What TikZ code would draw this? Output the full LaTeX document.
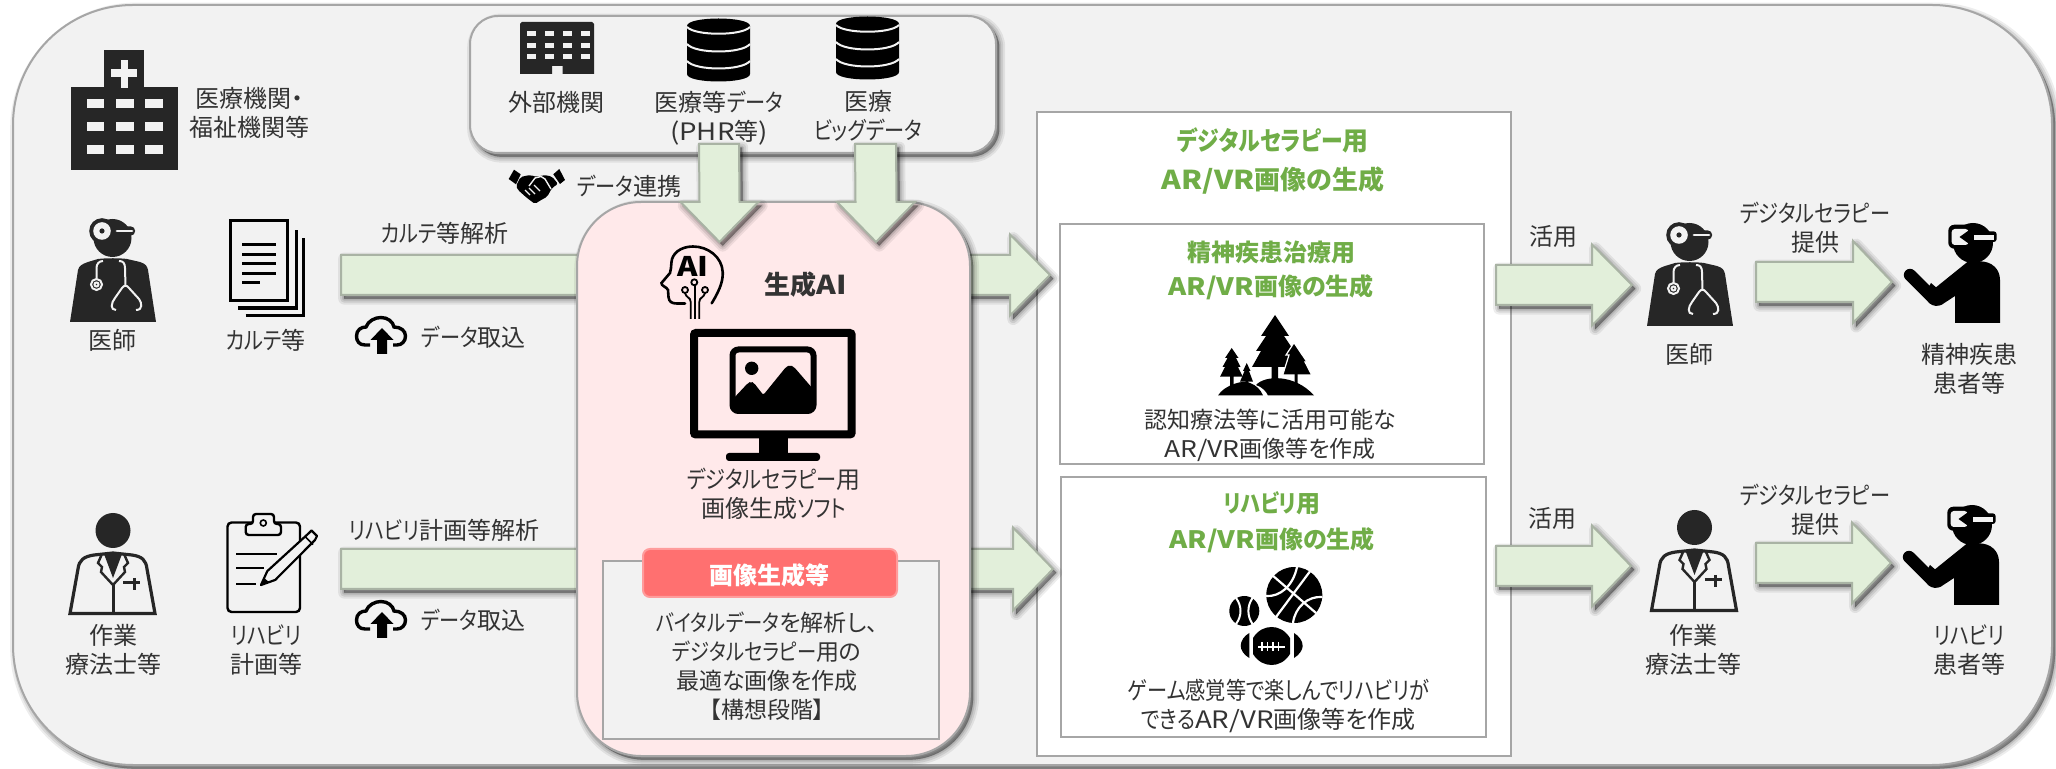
\documentclass[tikz,border=0pt]{standalone}
\usepackage{fontspec}
\setmainfont{Noto Sans CJK JP}[RawFeature=+palt]
\newfontfamily\narrowkana{Noto Sans CJK JP}[RawFeature=+palt,FakeStretch=0.84]
\newfontfamily\widelatin{Noto Sans CJK JP}[FakeStretch=1.15]
\newcommand\kn[1]{{\narrowkana #1}}
\newcommand\lt[1]{{\widelatin #1}}
\usetikzlibrary{calc}
\definecolor{paneFill}{HTML}{F2F2F2}
\definecolor{paneLine}{HTML}{A6A6A6}
\definecolor{flowFill}{HTML}{E2EFDA}
\definecolor{flowLine}{HTML}{A9B3A4}
\definecolor{aiFill}{HTML}{FFE9EA}
\definecolor{tagFill}{HTML}{FF7070}
\definecolor{tagLine}{HTML}{FF9C9C}
\definecolor{inkDark}{HTML}{262626}
\definecolor{bodyText}{HTML}{333333}
\definecolor{headGreen}{HTML}{70AD47}
% strut centred on the em box, so that every line sits at the same height
\newcommand\ST{\rule[-2.4pt]{0pt}{14pt}}
% soft drop shadow under a closed path
\newcommand\softshadow[1]{\foreach \shw/\sho in {6/.07,4/.09,2/.11,0.5/.13}{%
  \path[draw=black,fill=black,line width=\shw pt,line join=round,opacity=\sho,
        transform canvas={xshift=1.6pt,yshift=-1.8pt}] #1;}}
% block arrows: start coordinate, tip coordinate, half shaft, half head, head length
\newcommand\hpath[5]{($(#1)+(0,-#3)$) -- ($(#2)+(-#5,-#3)$) -- ($(#2)+(-#5,-#4)$) -- (#2) -- ($(#2)+(-#5,#4)$) -- ($(#2)+(-#5,#3)$) -- ($(#1)+(0,#3)$) -- cycle}
\newcommand\vpath[5]{($(#1)+(-#3,0)$) -- ($(#2)+(-#3,-#5)$) -- ($(#2)+(-#4,-#5)$) -- (#2) -- ($(#2)+(#4,-#5)$) -- ($(#2)+(#3,-#5)$) -- ($(#1)+(#3,0)$) -- cycle}
\newcommand\hblock[5]{\softshadow{\hpath{#1}{#2}{#3}{#4}{#5}}\draw[flowshape] \hpath{#1}{#2}{#3}{#4}{#5};}
\newcommand\vblock[5]{\softshadow{\vpath{#1}{#2}{#3}{#4}{#5}}\draw[flowshape] \vpath{#1}{#2}{#3}{#4}{#5};}
\tikzset{
  lbl/.style={inner sep=0pt,align=center,text=bodyText,font=\fontsize{12}{14.5}\selectfont},
  lblsmall/.style={lbl,font=\fontsize{11.5}{14.5}\selectfont},
  lblbold/.style={lbl,font=\fontsize{12}{14.5}\selectfont\bfseries},
  greenhead/.style={lblbold,text=headGreen},
  flowshape/.style={draw=flowLine,fill=flowFill,line width=1pt,line join=miter},
  panebox/.style={draw=paneLine,fill=paneFill,line width=1pt},
  whitebox/.style={draw=paneLine,fill=white,line width=1pt},
  doctoricon/.pic={
    \fill[inkDark] (0,104) -- (8,52) .. controls (9,48) and (12,46) .. (18,44) -- (28,41) .. controls (36,40) and (50,40) .. (57,41) -- (70,44) .. controls (76,46) and (77,48) .. (78,52) -- (86,104) -- cycle;
    \fill[inkDark] (42.5,20) circle[radius=19];
    \fill[inkDark] (32,13) circle[radius=12.8];
    \fill[paneFill] (32,13) circle[radius=8.8];
    \fill[inkDark] (32,13) circle[radius=2.6];
    \fill[inkDark,rounded corners=2pt] (43,8.5) rectangle (65,17.5);
    \draw[paneFill,line width=1.4pt,line cap=round] (47,13) -- (62,13);
    \draw[paneFill,line width=1pt] (26.5,60) -- (26.5,50) .. controls (26.5,46) and (29,43) .. (33,43) (49,43) .. controls (53,43) and (55,45) .. (55,50) -- (55.5,68);
    \draw[paneFill,line width=1pt] (26.5,66.5) circle[radius=5.5];
    \draw[paneFill,line width=1pt,fill=none] (26.5,66.5) circle[radius=2];
    \draw[paneFill,line width=1pt] (46,92) .. controls (40,92) and (41,85) .. (45,80) -- (52,70) .. controls (54,67) and (57,67) .. (59,70) -- (69,81) .. controls (72,85) and (73,92) .. (66,92);
  },
  therapisticon/.pic={
    \fill[inkDark] (44,17.5) circle[radius=17.5];
    \draw[inkDark,fill=paneFill,line width=1.6pt,line join=miter] (1,100.5) -- (9,56) .. controls (10,47) and (15,43.5) .. (25,42) -- (44,40) -- (63,42) .. controls (73,43.5) and (77,47) .. (78,56) -- (86,100.5) -- cycle;
    \fill[inkDark] (35,41) -- (44,65) -- (53,41) -- cycle;
    \draw[inkDark,line width=1.2pt,fill=paneFill] (33,41) -- (29,50) -- (33,54) -- (32,59) -- (44,72);
    \draw[inkDark,line width=1.2pt] (55,41) -- (59,50) -- (55,54) -- (56,59) -- (44,72);
    \draw[inkDark,line width=1.5pt] (44,70) -- (44,100);
    \draw[inkDark,line width=1.5pt] (54,69.5) -- (71,69.5) (65,65) -- (65,77);
  },
  vricon/.pic={
    \fill[black] (69,20) circle[radius=20];
    \fill[black,rounded corners=3pt] (44.3,1.7) rectangle (67,25.7);
    \fill[paneFill,rounded corners=1.5pt] (47.7,6) rectangle (64.5,22);
    \fill[black] (66,6.5) -- (55.5,14) -- (66,21.5) -- cycle;
    \fill[black,rounded corners=1.5pt] (64,8.3) rectangle (92.7,19);
    \fill[paneFill] (70,11.8) rectangle (90.3,16.6);
    \draw[black,line width=6.2pt,line cap=round] (6,52) -- (28,74);
    \fill[black] (51,100) -- (51,73) -- (37.7,81.7) .. controls (34,83.5) and (29,83.5) .. (25,80) -- (20,72) -- (27,60) -- (32,64.3) -- (64,38.5) -- (76,38.3) .. controls (88,38.5) and (96,46) .. (96,57) -- (96,100) -- cycle;
  },
  cloudicon/.pic={
    \draw[black,line width=1.7pt,line cap=butt] (14,28) -- (9,28) .. controls (3,28) and (0.5,24) .. (0.5,19) .. controls (0.5,13) and (5,10) .. (10,10) .. controls (12,4) and (19,0.5) .. (25,0.5) .. controls (32,0.5) and (37,5) .. (38,10) .. controls (45,10) and (49.5,14) .. (49.5,19) .. controls (49.5,24) and (46,28) .. (41,28) -- (37,28);
    \fill[black] (26,11) -- (37.5,23) -- (31,23) -- (31,37) -- (21,37) -- (21,23) -- (14.5,23) -- cycle;
  },
  dbicon/.pic={
    \fill[black] (0,8) .. controls (0,-2) and (63,-2) .. (63,8) -- (63,56) .. controls (63,66) and (0,66) .. (0,56) -- cycle;
    \draw[paneFill,line width=1pt] (0,9) .. controls (8,18) and (55,18) .. (63,9);
    \draw[paneFill,line width=1pt] (0,26) .. controls (8,36) and (55,36) .. (63,26);
    \draw[paneFill,line width=1pt] (0,43) .. controls (8,53) and (55,53) .. (63,43);
  },
}
\begin{document}
\begin{tikzpicture}[x=0.5pt,y=-0.5pt]
\useasboundingbox (0,0) rectangle (2056,769);

% outer pane
\softshadow{[rounded corners=60pt] (13,5) rectangle (2052,765)}
\draw[panebox,rounded corners=60pt] (13,5) rectangle (2052,765);

% hospital
\fill[inkDark] (71,87) rectangle (177.5,170);
\fill[inkDark] (104,50) rectangle (144,90);
\fill[paneFill] (120.5,60) rectangle (127.5,88);
\fill[paneFill] (111,69.5) rectangle (137,77.5);
\foreach \wx in {86.5,116,145}{\foreach \wy in {99,122,145}{\fill[paneFill] (\wx,\wy) rectangle ++(17.5,9);}}
\node[lbl] (hospital) at (249,113) {\ST 医療機関・\\\ST 福祉機関等};

% source pane
\softshadow{[rounded corners=14pt] (470,16) rectangle (996,153)}
\draw[panebox,rounded corners=14pt] (470,16) rectangle (996,153);

% building
\fill[inkDark] (520,74) -- (520,24) -- (522,22) -- (592,22) -- (594,24) -- (594,74) -- (562.5,74) -- (562.5,66) -- (552,66) -- (552,74) -- cycle;
\foreach \wx in {527,545,562.5,580.5}{\foreach \wy in {31,43,54}{\fill[paneFill] (\wx,\wy) rectangle ++(9,5.5);}}
\node[lbl] (external) at (556,102) {\ST 外部機関};
\pic at (687,18) {dbicon};
\node[lbl] (phr) at (719,117) {\ST 医療等\kn{データ}\\\ST \lt{(PHR}等\lt{)}};
\pic at (836,16) {dbicon};
\node[lbl] (bigdata) at (868,116) {\ST 医療\\\ST \kn{ビッグデータ}};

% handshake
\fill[black] (508.7,179) -- (514,169.7) -- (520.7,174.3) -- (516,184.3) -- cycle;
\fill[black] (553.3,174.3) -- (559.3,169) -- (565,180) -- (560,184) -- cycle;
\fill[black,rounded corners=1pt] (520.5,177) -- (530,175) -- (537,177) -- (544,175) -- (552,176.5) -- (558,184) -- (552,188) -- (547,197) -- (541,200) -- (535,204) -- (527,198) -- (518,190) -- (516,186) -- cycle;
\draw[paneFill,line width=0.7pt] (529,186) -- (535,178) -- (541,176.5) -- (545,179) -- (551,189);
\draw[paneFill,line width=0.6pt] (525,190) -- (530,195) (529,188) -- (535,194) (534,185) -- (540,191);
\node[lbl] (datalink) at (629,186) {\ST \kn{データ}連携};

% left-hand roles: doctor row
\pic at (70,218) {doctoricon};
\node[lbl] (doctorA) at (112.5,340) {\ST 医師};
\fill[paneFill] (229,219) rectangle (289,302);
\draw[black,line width=1.7pt] (230.5,220.5) rectangle (287.5,300.5);
\draw[black,line width=1.7pt] (238,308) -- (296.5,308) -- (296.5,230);
\draw[black,line width=1.7pt] (245.7,315.5) -- (303.5,315.5) -- (303.5,238);
\draw[black,line width=1.5pt] (242,245) -- (276,245) (242,254.5) -- (276,254.5) (242,264) -- (276,264) (242,273.5) -- (276,273.5) (242,283) -- (260,283);
\node[lbl] (chart) at (266,340) {\ST \kn{カルテ}等};
\node[lbl] (chartAnalysis) at (445,233) {\ST \kn{カルテ}等解析};
\pic at (356,317) {cloudicon};
\node[lbl] (importA) at (473.5,337) {\ST \kn{データ}取込};

% left-hand roles: therapist row
\pic at (69,513) {therapisticon};
\node[lbl] (therapistA) at (113,650) {\ST 作業\\\ST 療法士等};
\fill[paneFill] (227,522) rectangle (300,612);
\draw[black,line width=1.2pt,rounded corners=2pt] (227.5,522.5) rectangle (300,612);
\draw[black,fill=paneFill,line width=1.2pt,rounded corners=1.5pt] (245.7,535) -- (245.7,524) -- (253,524) -- (253,514) -- (274,514) -- (274,524) -- (281,524) -- (281,535) -- cycle;
\draw[black,line width=0.8pt] (263.3,523) circle[radius=3];
\draw[black,line width=1.3pt] (236,554) -- (277,554) (236,568) -- (264,568) (236,584) -- (256,584);
\draw[paneFill,line width=3.5pt] (270,578) -- (311,538);
\draw[black,fill=paneFill,line width=1.1pt,line join=round] (261,585) -- (267.3,571.1) -- (309,533) -- (311.5,530.5) -- (317,536) -- (315,540) -- (275.3,579.9) -- cycle;
\fill[black] (261,585) -- (264,578) -- (269,582) -- cycle;
\draw[black,line width=0.8pt] (305,536.5) -- (313,544.5);
\node[lbl] (plan) at (266,650) {\ST \kn{リハビリ}\\\ST 計画等};
\node[lbl] (planAnalysis) at (444,530) {\ST \kn{リハビリ}計画等解析};
\pic at (356,601) {cloudicon};
\node[lbl] (importB) at (473,620) {\ST \kn{データ}取込};

% output panes
\draw[whitebox] (1037,112) rectangle (1511,756);
\node[greenhead,font=\fontsize{13}{14.5}\selectfont\bfseries] (mainTitle) at (1273,160.5) {\ST \kn{デジタルセラピー}用\\[5pt]\ST \lt{AR/VR}画像の生成};
\draw[whitebox] (1060,224) rectangle (1484,464);
\node[greenhead] (psyTitle) at (1271,269) {\ST 精神疾患治療用\\[2.5pt]\ST \lt{AR/VR}画像の生成};
\draw[whitebox] (1061,477) rectangle (1486,737);
\node[greenhead] (rehabTitle) at (1272,521) {\ST \kn{リハビリ}用\\[3.5pt]\ST \lt{AR/VR}画像の生成};

% forest
\fill[black] (1275,315) -- (1261,336) -- (1266,336) -- (1256,351) -- (1261,351) -- (1252,367) -- (1271.7,367) -- (1271.7,386) -- (1278,386) -- (1278,367) -- (1298,367) -- (1289,351) -- (1294,351) -- (1284,336) -- (1289,336) -- cycle;
\draw[white,line width=0.6pt,fill=black] (1294,342.7) -- (1286,355) -- (1289,355) -- (1282.7,375) -- (1294,375) -- (1294,386) -- (1298.3,386) -- (1298.3,375) -- (1311.7,375) -- (1305,362) -- (1307,362) -- cycle;
\fill[black] (1231.7,348) -- (1225,358) -- (1227.5,358) -- (1222.5,367) -- (1225,367) -- (1220,376.7) -- (1230,376.7) -- (1230,390) -- (1233.5,390) -- (1233.5,376.7) -- (1242.7,376.7) -- (1238,367) -- (1240.5,367) -- (1236,358) -- (1238.5,358) -- cycle;
\fill[black] (1246.7,363) -- (1243,371) -- (1244.5,371) -- (1240,381.7) -- (1245.5,381.7) -- (1245.5,391) -- (1248,391) -- (1248,381.7) -- (1253,381.7) -- (1249,371) -- (1250.5,371) -- cycle;
\fill[black] (1218,395.5) .. controls (1224,385) and (1245,379) .. (1250,383) .. controls (1256,385) and (1261,390) .. (1263,395.5) -- cycle;
\fill[black] (1256,385) .. controls (1265,375) and (1295,374) .. (1314,395.5) -- (1268,395.5) .. controls (1266,391) and (1262,387) .. (1256,385) -- cycle;
\node[lblsmall] (psyText) at (1270,433.5) {\ST 認知療法等に活用可能な\\\ST \lt{AR/VR}画像等を作成};

% sports balls
\fill[black] (1294.3,595) circle[radius=28];
\draw[white,line width=1.1pt] (1311,570) -- (1276,617) (1272,575) -- (1316,613);
\draw[white,line width=1.1pt] (1266,596) .. controls (1280,597) and (1293,586) .. (1297,567);
\draw[white,line width=1.1pt] (1322,597) .. controls (1308,596) and (1295,607) .. (1293,623);
\fill[black] (1244.3,611) circle[radius=15];
\draw[white,line width=1pt] (1236,598) .. controls (1242,606) and (1242,616) .. (1236,624);
\draw[white,line width=1pt] (1252.5,598) .. controls (1247,606) and (1247,616) .. (1252.5,624);
\fill[black] (1253,638) .. controls (1258,630) and (1265,627) .. (1271.7,627) .. controls (1278,627) and (1285,630) .. (1290,638) -- (1290,654) .. controls (1285,662) and (1278,665) .. (1271.7,665) .. controls (1265,665) and (1258,662) .. (1253,654) -- cycle;
\fill[black] (1249.3,633) -- (1249.3,658) .. controls (1244,655) and (1240.7,650) .. (1240.7,646) .. controls (1240.7,641) and (1244,636) .. (1249.3,633) -- cycle;
\fill[black] (1294,633) -- (1294,658) .. controls (1299,655) and (1302.7,650) .. (1302.7,646) .. controls (1302.7,641) and (1299,636) .. (1294,633) -- cycle;
\draw[white,line width=0.9pt] (1258,647) -- (1285,647);
\foreach \lx in {1262,1267.5,1273,1278.5}{\draw[white,line width=0.7pt] (\lx,642.5) -- (\lx,651.5);}
\node[lbl] (rehabText) at (1278.5,704.5) {\ST \kn{ゲーム感覚等で楽しんでリハビリが}\\\ST \kn{できる}\lt{AR/VR}画像等を作成};

% flow through the generator
\coordinate (chartFlowStart) at (341,275);
\coordinate (chartFlowTip) at (1050,275);
\coordinate (planFlowStart) at (341,569);
\coordinate (planFlowTip) at (1053,569);
\hblock{chartFlowStart}{chartFlowTip}{20}{40.5}{40}
\hblock{planFlowStart}{planFlowTip}{20}{41.5}{40}

% generator pane
\softshadow{[rounded corners=32pt] (577,202) rectangle (970,756)}
\draw[draw=paneLine,fill=aiFill,line width=1pt,rounded corners=32pt] (577,202) rectangle (970,756);

% AI head
\draw[black,line width=1.3pt,line cap=round] (711.7,303.3) .. controls (721,288) and (723,280) .. (722.7,272) .. controls (722,257) and (708,246.5) .. (693,246.5) .. controls (680,246.5) and (672,254) .. (671.5,262) .. controls (671,267) and (671,270) .. (670,273) -- (661.5,283) .. controls (661,286) and (667,287) .. (668,290) -- (668.5,297) .. controls (669,302) and (672,303.5) .. (677,303.5) -- (685,303.5);
\node[inner sep=0pt,font=\fontsize{13.5}{14}\selectfont\bfseries] (aiGlyph) at (692.7,266) {\lt{AI}};
\draw[black,line width=0.9pt] (690.7,319) -- (690.7,302) .. controls (690.7,297) and (686,298) .. (685,293);
\draw[black,line width=0.9pt] (695,319) -- (695,285);
\draw[black,line width=0.9pt] (699.3,319) -- (699.3,302) .. controls (699.3,297) and (704,298) .. (705,293);
\draw[black,line width=0.9pt] (685,290) circle[radius=3] (694.3,282.3) circle[radius=3] (705,290) circle[radius=3];
\node[lblbold,font=\fontsize{13}{14.5}\selectfont\bfseries] (genai) at (806,285) {\ST 生成\lt{AI}};

% monitor
\draw[black,line width=4pt,rounded corners=1pt] (694,333) rectangle (851.7,434.5);
\fill[black] (759,436) rectangle (788,454);
\fill[black,rounded corners=1.5pt] (726,453) rectangle (820,461);
\draw[black,line width=3pt,rounded corners=3pt] (732.5,349.5) rectangle (813.5,411);
\fill[black,rounded corners=1pt] (733,399) -- (748,383) -- (751,381.5) -- (754,383) -- (763.3,395) -- (786,367) -- (790,365) -- (794,367) -- (813,389) -- (813,411) -- (733,411) -- cycle;
\fill[black] (751.7,368.3) circle[radius=6.7];
\node[lbl] (software) at (774,494) {\ST \kn{デジタルセラピー}用\\\ST 画像生成\kn{ソフト}};

% planned function
\draw[panebox] (603,561) rectangle (939,739);
\draw[draw=tagLine,fill=tagFill,line width=1pt,rounded corners=3.5pt] (643,549) rectangle (897,597);
\node[lblbold,text=white] (tagText) at (769.5,575) {\ST 画像生成等};
\node[lblsmall] (planned) at (767,665.5) {\ST \kn{バイタルデータ}を解析し、\\\ST \kn{デジタルセラピー}用の\\\ST 最適な画像を作成\\\ST 【構想段階】};

% inflow from the data sources
\coordinate (phrFlowStart) at (719,144);
\coordinate (phrFlowTip) at (719.5,242);
\coordinate (bigFlowStart) at (875.5,144);
\coordinate (bigFlowTip) at (876,242);
\vblock{phrFlowStart}{phrFlowTip}{20}{39}{40}
\vblock{bigFlowStart}{bigFlowTip}{20.5}{39}{40}

% delivery, upper row
\coordinate (useAStart) at (1496,285);
\coordinate (useATip) at (1632,285);
\hblock{useAStart}{useATip}{20}{40.5}{40}
\node[lbl] (useA) at (1553,236) {\ST 活用};
\pic at (1647,222) {doctoricon};
\node[lbl] (doctorB) at (1689,354) {\ST 医師};
\coordinate (giveAStart) at (1756,282);
\coordinate (giveATip) at (1892,282);
\hblock{giveAStart}{giveATip}{20}{41}{39}
\node[lbl] (giveA) at (1815,228) {\ST \kn{デジタルセラピー}\\\ST 提供};
\pic at (1904,223) {vricon};
\node[lbl] (patientA) at (1969,368.5) {\ST 精神疾患\\\ST 患者等};

% delivery, lower row
\coordinate (useBStart) at (1496,566);
\coordinate (useBTip) at (1631,566);
\hblock{useBStart}{useBTip}{20}{40.5}{39}
\node[lbl] (useB) at (1552,518) {\ST 活用};
\pic at (1650.5,510) {therapisticon};
\node[lbl] (therapistB) at (1693,649.5) {\ST 作業\\\ST 療法士等};
\coordinate (giveBStart) at (1756,563);
\coordinate (giveBTip) at (1891,563);
\hblock{giveBStart}{giveBTip}{20}{40.5}{39}
\node[lbl] (giveB) at (1815,509.5) {\ST \kn{デジタルセラピー}\\\ST 提供};
\pic at (1903,505) {vricon};
\node[lbl] (patientB) at (1969,649.5) {\ST \kn{リハビリ}\\\ST 患者等};
\end{tikzpicture}
\end{document}
